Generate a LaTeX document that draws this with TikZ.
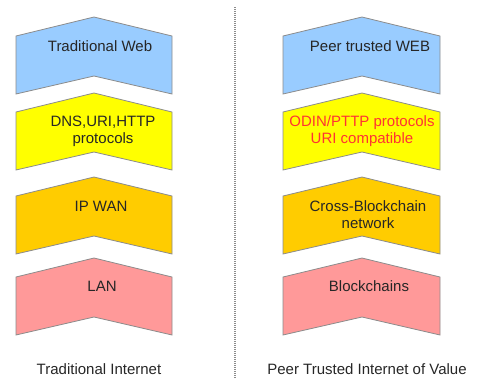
\documentclass[tikz,border=0pt]{standalone}
\usepackage{fontspec}
\setmainfont{Liberation Sans}
\definecolor{webblue}{HTML}{99CCFF}
\definecolor{protoyellow}{HTML}{FFFF00}
\definecolor{netorange}{HTML}{FFCC00}
\definecolor{lanpink}{HTML}{FF9999}
\definecolor{odinred}{HTML}{FF3333}
\begin{document}
\begin{tikzpicture}[x=1pt,y=-1pt,
    layer/.style={draw=black!45,line width=.8pt},
    lbl/.style={font=\fontsize{15}{17}\selectfont,align=center,inner sep=0pt,text=black!85},
    every node/.style={anchor=center}]
    \useasboundingbox (0,0) rectangle (480,378);
    % the stacked layers, left and right
    \foreach \ya/\col in {17/webblue,93/protoyellow,177/netorange,258/lanpink}{
        \foreach \xl/\xc/\xr in {16/94/172,283/362/440}
            \filldraw[layer,fill=\col] (\xl,\ya+19) -- (\xc,\ya) -- (\xr,\ya+19)
                -- (\xr,\ya+77) -- (\xc,\ya+59) -- (\xl,\ya+77) -- cycle;
    }

    \node[lbl] (tweb)   at (100,46)  {Traditional Web};
    \node[lbl] (dns)    at (103,131) {DNS,URI,HTTP\\protocols};
    \node[lbl] (ipwan)  at (101,206) {IP WAN};
    \node[lbl] (lan)    at (102,286) {LAN};

    \node[lbl] (pweb)   at (370,46)  {Peer trusted WEB};
    \node[lbl,text=odinred] (odin) at (362,131) {ODIN/PTTP protocols\\URI compatible};
    \node[lbl] (xchain) at (368,215) {Cross-Blockchain\\network};
    \node[lbl] (bchain) at (369,286) {Blockchains};

    \node[lbl] (tnet) at (99,369)  {Traditional Internet};
    \node[lbl] (pnet) at (367,369) {Peer Trusted Internet of Value};

    % divider
    \coordinate (divtop) at (235,7);
    \coordinate (divbot) at (235,378);
    \draw[black!45,line width=1.5pt,dash pattern=on 1pt off 1pt] (divtop) -- (divbot);
\end{tikzpicture}
\end{document}
